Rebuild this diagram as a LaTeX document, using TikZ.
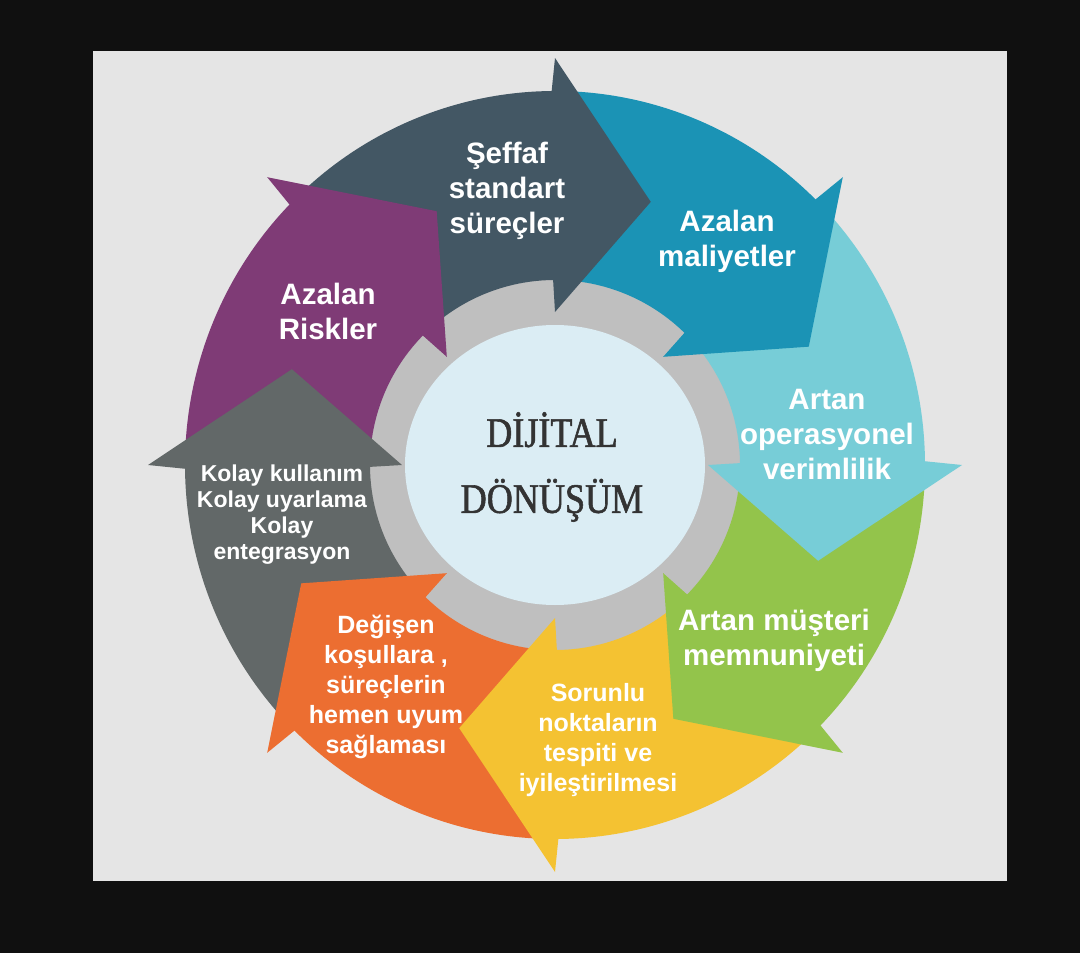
\documentclass[tikz,border=0pt]{standalone}
\usepackage{fontspec}
\setmainfont{Liberation Sans}
\newfontfamily\ctrfont[FakeStretch=0.86,FakeBold=1.3]{Liberation Serif}
\definecolor{bgblack}{HTML}{101010}
\definecolor{bggray}{HTML}{E5E5E5}
\definecolor{ringgray}{HTML}{BFBFBF}
\definecolor{innerblue}{HTML}{DBEDF4}
\definecolor{ctrtext}{HTML}{333333}
\definecolor{cA}{HTML}{435764}
\definecolor{cB}{HTML}{1B93B5}
\definecolor{cC}{HTML}{77CDD7}
\definecolor{cD}{HTML}{93C44B}
\definecolor{cE}{HTML}{F4C232}
\definecolor{cF}{HTML}{EC6E31}
\definecolor{cG}{HTML}{626868}
\definecolor{cH}{HTML}{7F3B76}
\begin{document}
\begin{tikzpicture}[x=1pt,y=1pt,
  lbl/.style={text=white, align=center, inner sep=0pt},
  lblbig/.style={lbl, font=\bfseries\fontsize{29.5}{35}\selectfont},
  lblmid/.style={lbl, font=\bfseries\fontsize{25}{30}\selectfont},
  lblsmall/.style={lbl, font=\bfseries\fontsize{23}{26}\selectfont}]
\fill[bgblack] (0,0) rectangle (1080,-953);
\fill[bggray] (93,-51) rectangle (1007,-881);
\useasboundingbox (0,0) rectangle (1080,-953);
\begin{scope}[shift={(555,-465)}]
  \fill[ringgray] (0,0) circle[radius=186pt];
  \fill[innerblue] (0,0) ellipse[x radius=150pt, y radius=140pt];
  \foreach \b/\col in {90/cA,45/cB,0/cC,-45/cD,-90/cE,-135/cF,-180/cG,-225/cH}{
    \pgfmathsetmacro\a{\b+45}
    \fill[\col] (\a:370pt and 374pt) arc[start angle=\a, end angle=\b, x radius=370pt, y radius=374pt]
      -- (\b:185pt) arc[start angle=\b, end angle=\a, radius=185pt] -- cycle;
  }
  \foreach \b/\col in {90/cA,45/cB,0/cC,-45/cD,-90/cE,-135/cF,-180/cG,-225/cH}{
    \pgfmathsetmacro\t{\b-20}
    \pgfmathsetmacro\s{\b+0.6}
    \fill[\col] (\b:407pt) -- (\t:280pt) -- (\b:153pt) -- (\s:186pt) -- (\s:369pt) -- cycle;
  }
\end{scope}
\node[text=ctrtext, align=center, inner sep=0pt, font=\ctrfont\fontsize{42}{66}\selectfont] (ctr) at (552,-467) {DİJİTAL\\DÖNÜŞÜM};
\node[lblbig] (t1) at (507,-191) {Şeffaf\\standart\\süreçler};
\node[lblbig] (t2) at (727,-241) {Azalan\\maliyetler};
\node[lblbig] (t3) at (827,-434) {Artan\\operasyonel\\verimlilik};
\node[lblbig] (t4) at (774,-640) {Artan müşteri\\memnuniyeti};
\node[lblmid] (t5) at (598,-740) {Sorunlu\\noktaların\\tespiti ve\\iyileştirilmesi};
\node[lblmid] (t6) at (386,-687) {Değişen\\koşullara ,\\süreçlerin\\hemen uyum\\sağlaması};
\node[lblsmall] (t7) at (282,-515) {Kolay kullanım\\Kolay uyarlama\\Kolay\\entegrasyon};
\node[lblbig] (t8) at (328,-311) {Azalan\\Riskler};
\end{tikzpicture}
\end{document}
